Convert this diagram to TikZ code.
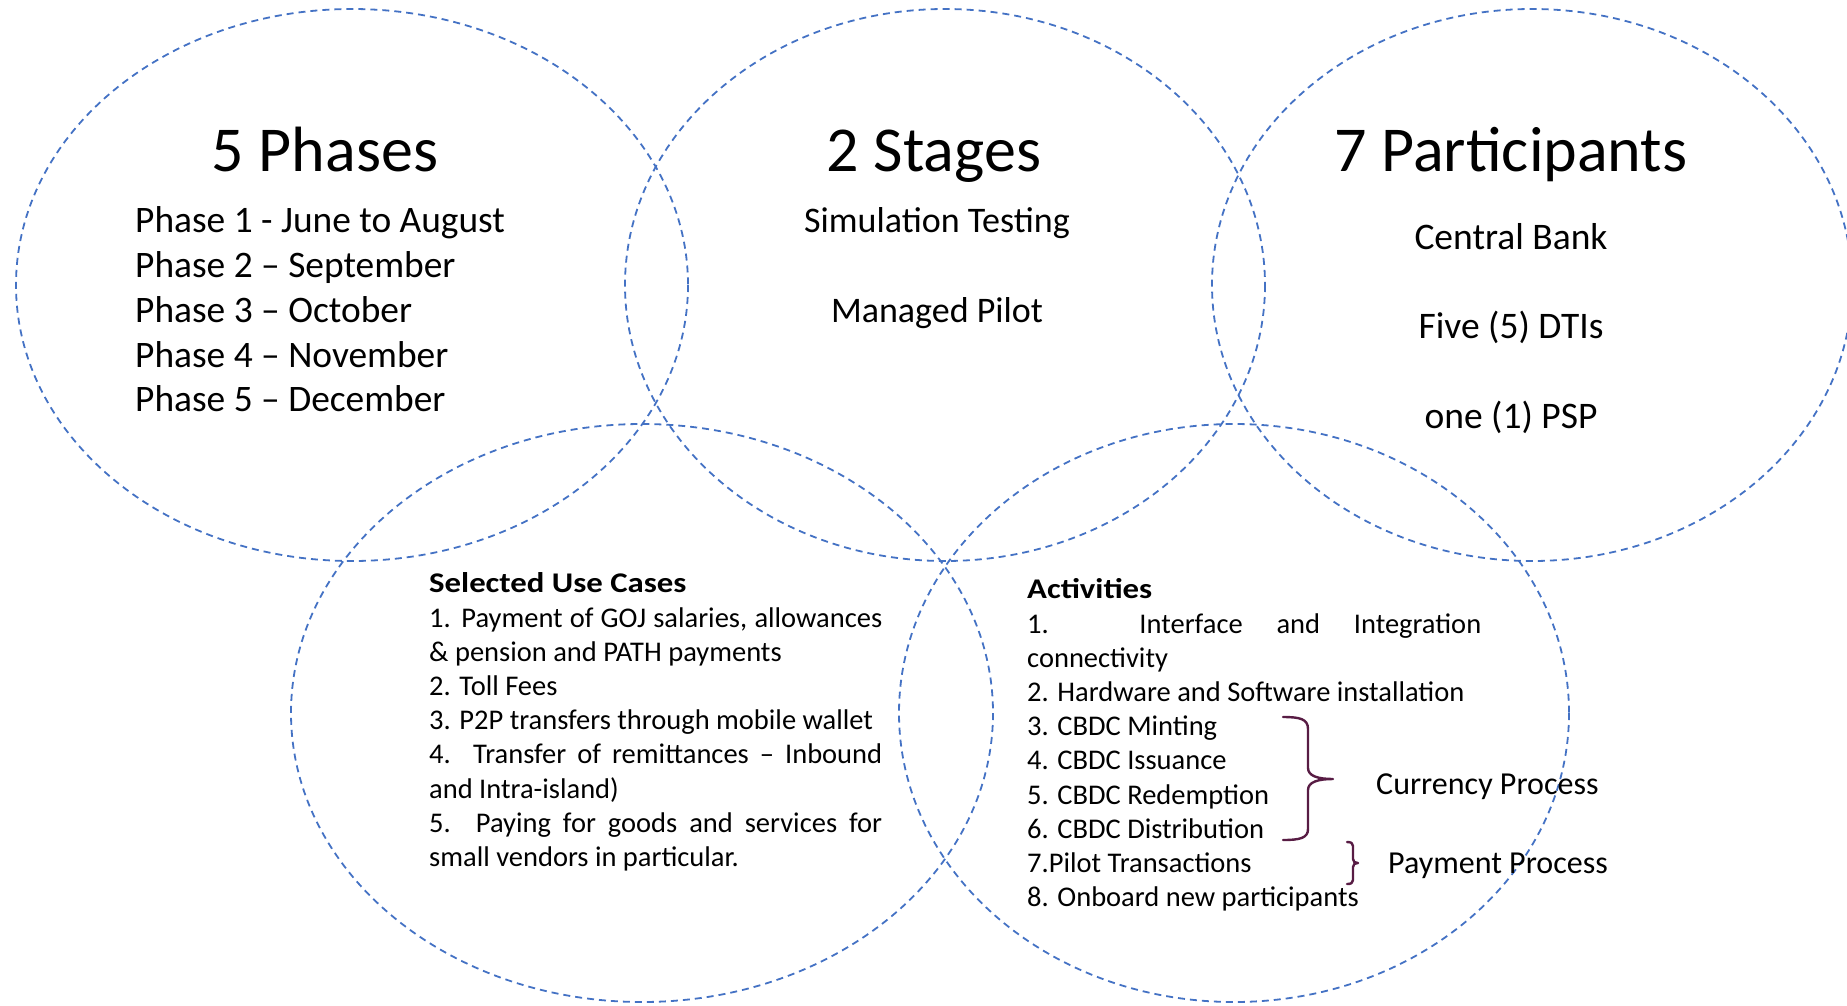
\documentclass[tikz,border=0pt]{standalone}
\usepackage{graphicx}
\usepackage{fontspec}
\setmainfont{Carlito}
\definecolor{ringblue}{RGB}{68,114,196}
\definecolor{bracecol}{RGB}{88,28,68}
\newcommand{\blockhead}[1]{\scalebox{1.15}[1]{\textbf{#1}}}
\begin{document}
\begin{tikzpicture}[x=1pt,y=-1pt,
  ring/.style={draw=ringblue, line width=1.8pt, dash pattern=on 7pt off 5pt},
  heading/.style={font=\fontsize{64}{76}\selectfont, inner sep=0pt, anchor=base},
  phasetext/.style={font=\fontsize{37.4}{44.8}\selectfont, inner sep=0pt, align=left, anchor=west},
  itemtext/.style={font=\fontsize{36}{43}\selectfont, inner sep=0pt, anchor=base},
  bigitem/.style={font=\fontsize{37.5}{45}\selectfont, inner sep=0pt, anchor=base},
  blocktext/.style={font=\fontsize{28.5}{34.2}\selectfont, inner sep=0pt, align=left, anchor=west},
  proctext/.style={font=\fontsize{32}{38}\selectfont, inner sep=0pt, anchor=base west},
  bracket/.style={draw=bracecol, line width=2.4pt, line cap=round, line join=round}]

\useasboundingbox (0,0) rectangle (1847,1005);
\clip (0,0) rectangle (1847,1005);

% the five overlapping rings
\draw[ring] (352,285) ellipse [x radius=336, y radius=276];
\draw[ring] (945,285) ellipse [x radius=320, y radius=276];
\draw[ring] (1532,285) ellipse [x radius=320, y radius=276];
\draw[ring] (642,713) ellipse [x radius=351, y radius=289];
\draw[ring] (1234,713) ellipse [x radius=335, y radius=289];

% headings
\node[heading] (phases) at (325,171) {5 Phases};
\node[heading] (stages) at (934,171) {2 Stages};
\node[heading] (participants) at (1511,171) {7 Participants};

% phases
\node[phasetext] (phaselist) at (135,309.5) {Phase 1 - June to August\\
Phase 2 – September\\
Phase 3 – October\\
Phase 4 – November\\
Phase 5 – December};

% stages
\node[itemtext] (simulation) at (937,232.5) {Simulation Testing};
\node[itemtext] (pilot) at (937,322.5) {Managed Pilot};

% participants
\node[bigitem] (centralbank) at (1511,249) {Central Bank};
\node[bigitem] (dtis) at (1511,338.5) {Five (5) DTIs};
\node[bigitem] (psp) at (1511,428) {one (1) PSP};

% use cases
\node[blocktext] (usecases) at (429,722) {\blockhead{Selected Use Cases}\\
\makebox[453pt][s]{1. Payment of GOJ salaries, allowances}\\
\& pension and PATH payments\\
2. Toll Fees\\
3. P2P transfers through mobile wallet\\
\makebox[453pt][s]{4. Transfer of remittances – Inbound}\\
and Intra-island)\\
\makebox[453pt][s]{5. Paying for goods and services for}\\
small vendors in particular.};

% activities
\node[blocktext] (activities) at (1027,745) {\blockhead{Activities}\\
\makebox[454pt][s]{1. Interface and Integration}\\
connectivity\\
2. Hardware and Software installation\\
3. CBDC Minting\\
4. CBDC Issuance\\
5. CBDC Redemption\\
6. CBDC Distribution\\
7.Pilot Transactions\\
8. Onboard new participants};

% braces grouping the activities
\draw[bracket] (1283,717) .. controls (1300,717) and (1308,719) .. (1308,729)
  -- (1308,768) .. controls (1308,776) and (1318,779) .. (1333,779)
  .. controls (1318,779) and (1308,782) .. (1308,790)
  -- (1308,829) .. controls (1308,838) and (1300,840) .. (1283,840);
\draw[bracket] (1347,842) .. controls (1351,842) and (1353,843) .. (1353,846)
  -- (1353,859) .. controls (1353,862) and (1355,863) .. (1358,863)
  .. controls (1355,863) and (1353,864) .. (1353,867)
  -- (1353,880) .. controls (1353,883) and (1351,884) .. (1347,884);

\node[proctext] (currency) at (1376,794) {Currency Process};
\node[proctext] (payment) at (1388,873) {Payment Process};
\end{tikzpicture}
\end{document}
